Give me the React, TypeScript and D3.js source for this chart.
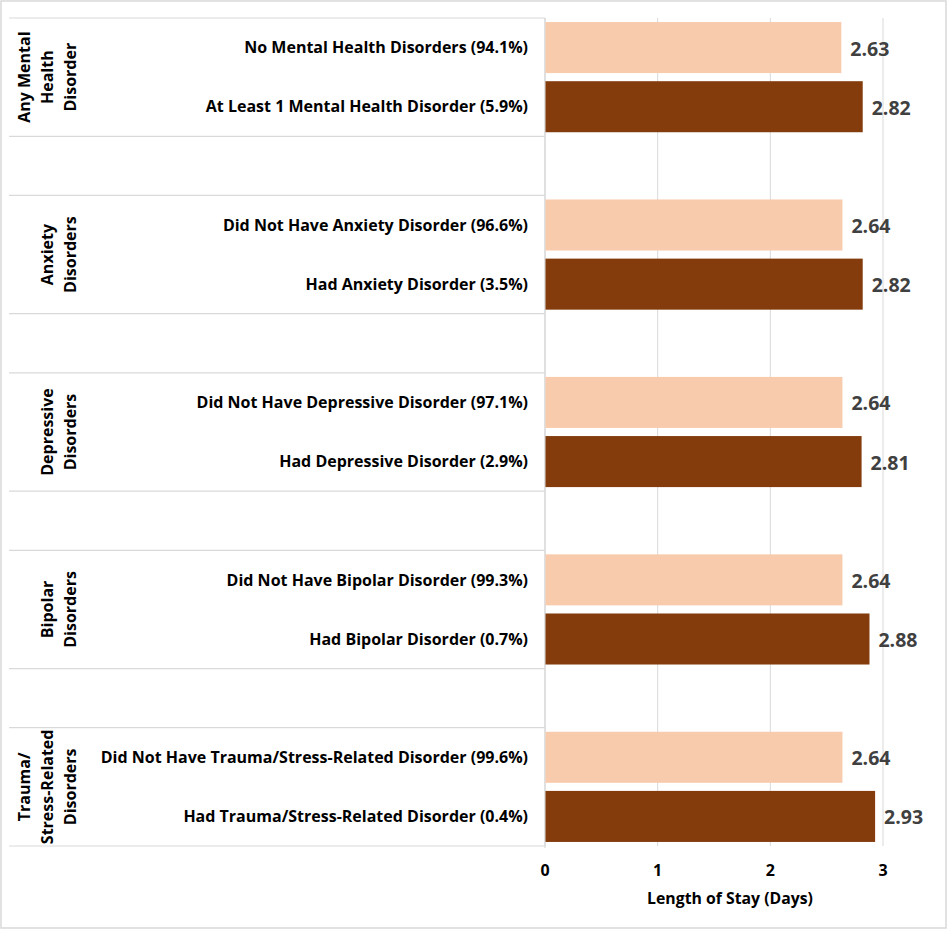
import React from "react";
import * as d3 from "d3";

const groupLabels: string[][] = [
  ["Any Mental", "Health", "Disorder"],
  ["Anxiety", "Disorders"],
  ["Depressive", "Disorders"],
  ["Bipolar", "Disorders"],
  ["Trauma/", "Stress-Related", "Disorders"],
];

const withoutLabels: string[] = [
  "No Mental Health Disorders (94.1%)",
  "Did Not Have Anxiety Disorder (96.6%)",
  "Did Not Have Depressive Disorder (97.1%)",
  "Did Not Have Bipolar Disorder (99.3%)",
  "Did Not Have Trauma/Stress-Related Disorder (99.6%)",
];

const withLabels: string[] = [
  "At Least 1 Mental Health Disorder (5.9%)",
  "Had Anxiety Disorder (3.5%)",
  "Had Depressive Disorder (2.9%)",
  "Had Bipolar Disorder (0.7%)",
  "Had Trauma/Stress-Related Disorder (0.4%)",
];

const withoutValues: number[] = [2.63, 2.64, 2.64, 2.64, 2.64];
const withValues: number[] = [2.82, 2.82, 2.81, 2.88, 2.93];

const xTicks: number[] = [0, 1, 2, 3];
const axisTitle = "Length of Stay (Days)";

const W = 948;
const H = 930;
const FONT = "'Open Sans', Lato, sans-serif";
const LIGHT = "#F8CBAD";
const DARK = "#843C0C";
const GRID = "#D9D9D9";

export default function App() {
  const plotLeft = 545;
  const plotRight = 883;
  const plotTop = 18;
  const plotBottom = 846;

  const rows: { key: string; group: number; kind: "without" | "with" | "gap" }[] = [];
  groupLabels.forEach((_, i) => {
    rows.push({ key: `g${i}-0`, group: i, kind: "without" });
    rows.push({ key: `g${i}-1`, group: i, kind: "with" });
    if (i < groupLabels.length - 1) rows.push({ key: `gap${i}`, group: i, kind: "gap" });
  });

  const x = d3.scaleLinear().domain([0, 3]).range([plotLeft, plotRight]);
  const yRow = d3
    .scaleBand<string>()
    .domain(rows.map((r) => r.key))
    .range([plotTop, plotBottom])
    .padding(0);
  const y = d3
    .scaleBand<string>()
    .domain(rows.map((r) => r.key))
    .range([plotTop, plotBottom])
    .paddingInner(0.137)
    .paddingOuter(0.0685);
  const step = yRow.step();

  const bars = groupLabels.flatMap((_, i) => [
    { key: `g${i}-0`, value: withoutValues[i], label: withoutLabels[i], color: LIGHT },
    { key: `g${i}-1`, value: withValues[i], label: withLabels[i], color: DARK },
  ]);

  return (
    <svg
      width={W}
      height={H}
      style={{ position: "absolute", left: 0, top: 0, background: "#fff" }}
      fontFamily={FONT}
    >
      <rect x={1} y={1} width={945} height={927} fill="#fff" stroke={GRID} strokeWidth={1.5} />

      {/* gridlines */}
      {xTicks.map((t) => (
        <line key={`g${t}`} x1={x(t)} x2={x(t)} y1={plotTop} y2={plotBottom} stroke={GRID} strokeWidth={1} />
      ))}

      {/* group separators */}
      {groupLabels.map((_, i) => {
        const top = yRow(`g${i}-0`)!;
        const bottom = yRow(`g${i}-1`)! + step;
        return (
          <g key={`sep${i}`}>
            <line x1={9} x2={plotLeft} y1={top} y2={top} stroke={GRID} strokeWidth={1.2} />
            <line x1={9} x2={plotLeft} y1={bottom} y2={bottom} stroke={GRID} strokeWidth={1.2} />
          </g>
        );
      })}
      <line x1={plotLeft} x2={plotLeft} y1={plotTop} y2={plotBottom + 2} stroke={GRID} strokeWidth={1.2} />

      {/* bars */}
      {bars.map((b) => (
        <g key={b.key}>
          <rect
            x={x(0) + 0.5}
            y={y(b.key)!}
            width={x(b.value) - x(0) - 0.5}
            height={y.bandwidth()}
            fill={b.color}
          />
          <text
            x={x(b.value) + 9}
            y={y(b.key)! + y.bandwidth() / 2 + 1}
            dy="0.36em"
            fontSize={19.5}
            fontWeight={700}
            fill="#404040"
          >
            {b.value.toFixed(2)}
          </text>
          <text
            x={528}
            y={y(b.key)! + y.bandwidth() / 2}
            dy="0.36em"
            textAnchor="end"
            fontSize={16}
            fontWeight={700}
            fill="#000"
          >
            {b.label}
          </text>
        </g>
      ))}

      {/* group labels */}
      {groupLabels.map((lines, i) => {
        const top = yRow(`g${i}-0`)!;
        const bottom = yRow(`g${i}-1`)! + step;
        const cy = (top + bottom) / 2;
        const lastX = 70;
        const lh = 23;
        return lines.map((ln, j) => {
          const cx = lastX - (lines.length - 1 - j) * lh;
          return (
            <text
              key={`gl${i}-${j}`}
              transform={`translate(${cx},${cy}) rotate(-90)`}
              textAnchor="middle"
              dy="0.36em"
              fontSize={16}
              fontWeight={700}
              fill="#000"
            >
              {ln}
            </text>
          );
        });
      })}

      {/* x axis tick labels */}
      {xTicks.map((t) => (
        <text
          key={`t${t}`}
          x={x(t)}
          y={870}
          dy="0.36em"
          textAnchor="middle"
          fontSize={16}
          fontWeight={700}
          fill="#000"
        >
          {t}
        </text>
      ))}
      <text
        x={(x(0) + x(3)) / 2 + 16}
        y={898}
        dy="0.36em"
        textAnchor="middle"
        fontSize={15.8}
        fontWeight={700}
        fill="#000"
      >
        {axisTitle}
      </text>
    </svg>
  );
}
